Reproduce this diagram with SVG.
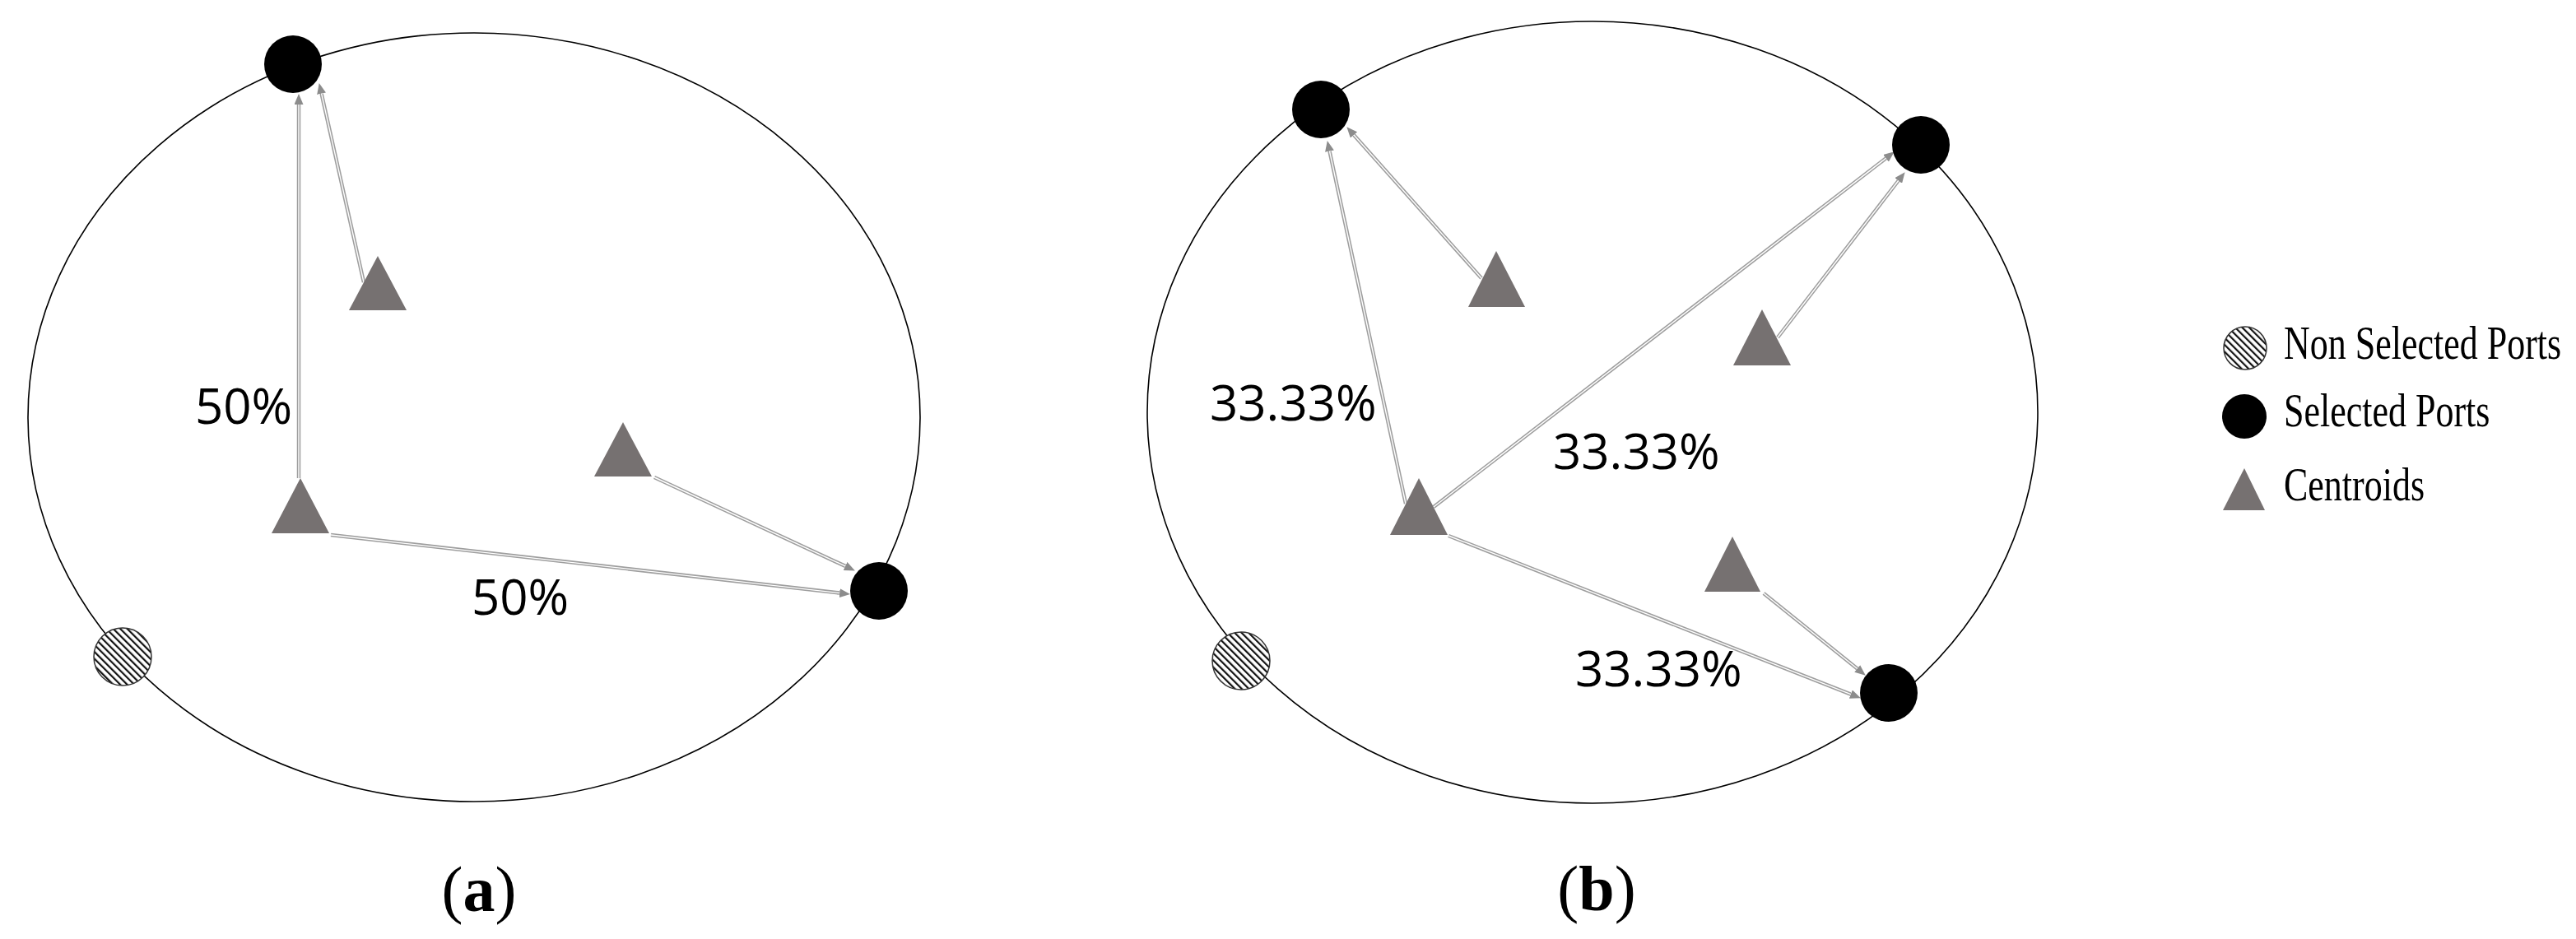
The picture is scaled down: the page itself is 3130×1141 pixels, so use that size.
<svg xmlns="http://www.w3.org/2000/svg" width="3130" height="1141" viewBox="0 0 3130 1141">
<style>
.rim{fill:none;stroke:#000;stroke-width:1.6}
.sel{fill:#000}
.non{fill:url(#hatch);stroke:#333;stroke-width:1.5}
.cen{fill:#767171}
.co{fill:none;stroke:#9e9e9e;stroke-width:4.5;marker-end:url(#ah)}
.ci{fill:none;stroke:#fff;stroke-width:1.4}
.pct{font-family:"Open Sans","Noto Sans",sans-serif;font-size:60px;fill:#000}
.cap{font-family:"Liberation Serif","Times New Roman",serif;font-size:78px;fill:#000}
.leg{font-family:"Liberation Serif","Times New Roman",serif;font-size:44px;fill:#000}
</style>
<defs>
<pattern id="hatch" patternUnits="userSpaceOnUse" width="6" height="6" patternTransform="rotate(-45)">
<rect width="6" height="6" fill="#fff"/>
<rect x="0" y="0" width="2.2" height="6" fill="#111"/>
</pattern>
<marker id="ah" markerUnits="userSpaceOnUse" markerWidth="13" markerHeight="11" refX="0" refY="5.5" orient="auto">
<path d="M0,0 L13,5.5 L0,11 z" fill="#8c8c8c"/>
</marker>
</defs>
<rect width="3130" height="1141" fill="#fff"/>

<g id="region-a"><ellipse class="rim" cx="576" cy="507" rx="542" ry="467"/></g>
<g id="region-b"><ellipse class="rim" cx="1935" cy="501" rx="541" ry="475"/></g>

<g id="connectors">
<path class="co" d="M363,581 L363,127"/><path class="ci" d="M363,581 L363,127"/>
<path class="co" d="M442,343 L390.6,113.7"/><path class="ci" d="M442,343 L390.6,113.7"/>
<path class="co" d="M795,580 L1027.1,687.9"/><path class="ci" d="M795,580 L1027.1,687.9"/>
<path class="co" d="M402,650 L1020.1,720.6"/><path class="ci" d="M402,650 L1020.1,720.6"/>
<path class="co" d="M1708,612 L1615.5,183.7"/><path class="ci" d="M1708,612 L1615.5,183.7"/>
<path class="co" d="M1800,338 L1645,164"/><path class="ci" d="M1800,338 L1645,164"/>
<path class="co" d="M1742,616 L2291.5,192.3"/><path class="ci" d="M1742,616 L2291.5,192.3"/>
<path class="co" d="M2160,410 L2306.7,219.5"/><path class="ci" d="M2160,410 L2306.7,219.5"/>
<path class="co" d="M1760,651 L2248.8,843.6"/><path class="ci" d="M1760,651 L2248.8,843.6"/>
<path class="co" d="M2143,721 L2256.7,812.5"/><path class="ci" d="M2143,721 L2256.7,812.5"/>
</g>

<g id="a-port-top"><circle class="sel" cx="356" cy="78" r="35"/></g>
<g id="a-port-right"><circle class="sel" cx="1068" cy="718" r="35"/></g>
<g id="a-port-non"><circle class="non" cx="149" cy="798" r="35"/></g>
<g id="a-centroid-1"><polygon class="cen" points="459,311 424,377 494,377"/></g>
<g id="a-centroid-2"><polygon class="cen" points="365,581 330,648 400,648"/></g>
<g id="a-centroid-3"><polygon class="cen" points="757,513 722,579 792,579"/></g>

<g id="b-port-topleft"><circle class="sel" cx="1605" cy="133" r="35"/></g>
<g id="b-port-topright"><circle class="sel" cx="2334" cy="176" r="35"/></g>
<g id="b-port-bottomright"><circle class="sel" cx="2295" cy="842" r="35"/></g>
<g id="b-port-non"><circle class="non" cx="1508" cy="803" r="35"/></g>
<g id="b-centroid-1"><polygon class="cen" points="1818,305 1784,373 1853,373"/></g>
<g id="b-centroid-2"><polygon class="cen" points="2141,376 2106,444 2176,444"/></g>
<g id="b-centroid-3"><polygon class="cen" points="1724,581 1689,650 1759,650"/></g>
<g id="b-centroid-4"><polygon class="cen" points="2105,652 2071,719 2139,719"/></g>

<g id="labels">
<text class="pct" x="237" y="515">50%</text>
<text class="pct" x="573" y="747">50%</text>
<text class="pct" x="1470" y="511">33.33%</text>
<text class="pct" x="1887" y="570">33.33%</text>
<text class="pct" x="1914" y="834">33.33%</text>
<text class="cap" x="582" y="1107" text-anchor="middle">(<tspan font-weight="bold">a</tspan>)</text>
<text class="cap" x="1940" y="1106" text-anchor="middle">(<tspan font-weight="bold">b</tspan>)</text>
</g>

<g id="legend">
<g id="legend-non"><circle class="non" cx="2728" cy="423" r="26"/><text class="leg" transform="translate(2775,436) scale(1,1.3)">Non Selected Ports</text></g>
<g id="legend-sel"><circle class="sel" cx="2727" cy="506" r="27"/><text class="leg" transform="translate(2775,518) scale(1,1.3)">Selected Ports</text></g>
<g id="legend-cen"><polygon class="cen" points="2727,569 2701,620 2752,620"/><text class="leg" transform="translate(2775,608) scale(1,1.3)">Centroids</text></g>
</g>
</svg>
